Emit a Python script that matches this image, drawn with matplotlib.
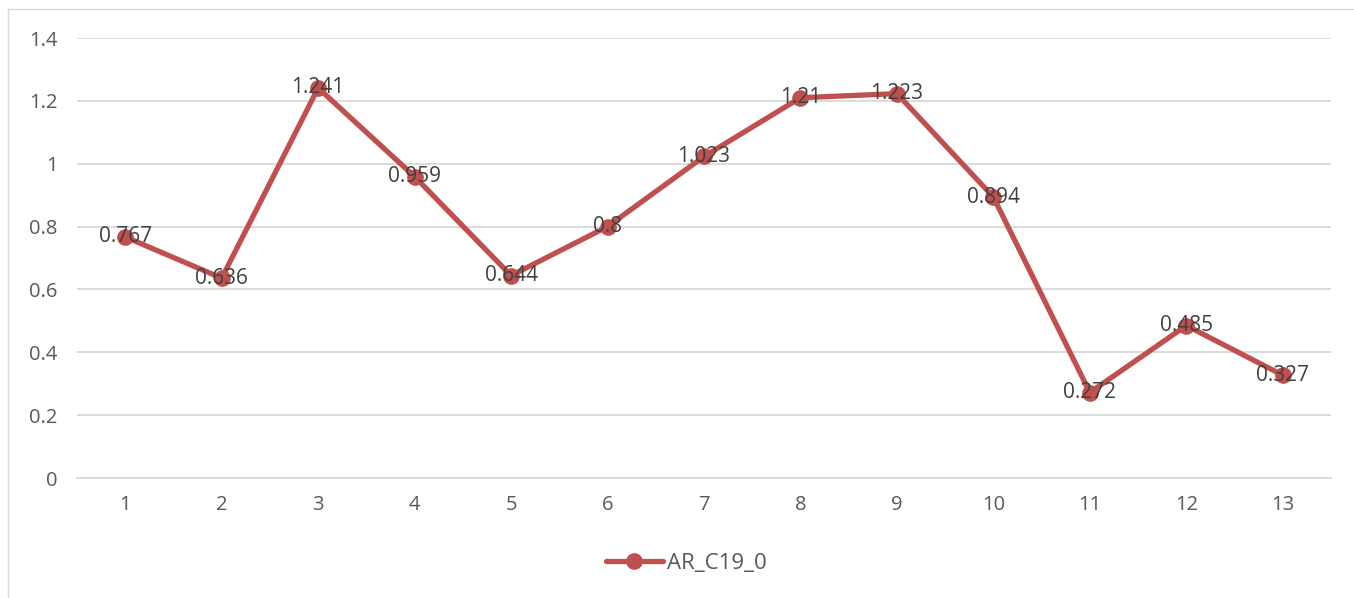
import matplotlib.pyplot as plt
from matplotlib.lines import Line2D

# series values
categories = [1, 2, 3, 4, 5, 6, 7, 8, 9, 10, 11, 12, 13]
values = [0.767, 0.636, 1.241, 0.959, 0.644, 0.8, 1.023, 1.21, 1.223, 0.894, 0.272, 0.485, 0.327]
series_name = 'AR_C19_0'
yticks = [0, 0.2, 0.4, 0.6, 0.8, 1, 1.2, 1.4]
ytick_labels = ['0', '0.2', '0.4', '0.6', '0.8', '1', '1.2', '1.4']

plt.rcParams['font.family'] = ['Open Sans', 'DejaVu Sans']

W, H = 1354, 598
fig = plt.figure(figsize=(W / 100, H / 100), dpi=100)

# outer chart border (left and top edges only)
border = dict(transform=fig.transFigure, color='#d9d9d9', linewidth=1)
fig.lines.append(Line2D([7.5 / W, 7.5 / W], [0, 1 - 9 / H], **border))
fig.lines.append(Line2D([7.5 / W, 1], [1 - 9 / H, 1 - 9 / H], **border))

ax = fig.add_axes([77 / W, 1 - 478 / H, (1331 - 77) / W, (478 - 38) / H])
ax.set_xlim(0.5, 13.5)
ax.set_ylim(0, 1.4)

line_color = '#c0504d'
ax.plot(categories, values, color=line_color, linewidth=3.8, marker='o',
        markersize=11, label=series_name, zorder=3, solid_capstyle='round')

for x, v in zip(categories, values):
    ax.text(x, v, f'{v:g}', ha='center', va='center', fontsize=15,
            color='#404040', zorder=4)

ax.set_xticks(categories)
ax.set_xticklabels([str(c) for c in categories])
ax.set_yticks(yticks)
ax.set_yticklabels(ytick_labels)
ax.tick_params(length=0, labelsize=14.5, colors='#595959')
ax.tick_params(axis='x', pad=12)
ax.tick_params(axis='y', pad=14)

ax.grid(axis='y', color='#d9d9d9', linewidth=1.3)
ax.set_axisbelow(True)
for side in ['top', 'right', 'left']:
    ax.spines[side].set_visible(False)
ax.spines['bottom'].set_color('#d9d9d9')
ax.spines['bottom'].set_linewidth(1.3)

leg = fig.legend(loc='center', bbox_to_anchor=(686 / W, 1 - 563 / H),
                 frameon=False, fontsize=16, handlelength=2.6,
                 handletextpad=0.15)
for t in leg.get_texts():
    t.set_color('#595959')

fig.savefig('out.png', dpi=100)
